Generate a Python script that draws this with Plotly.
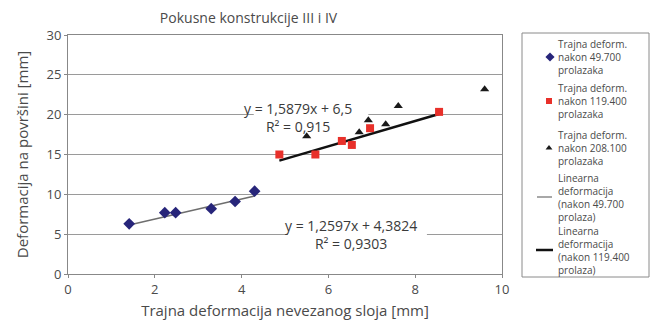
import plotly.graph_objects as go

# --- data ---
x_49700 = [1.41, 2.23, 2.48, 3.30, 3.85, 4.30]
y_49700 = [6.3, 7.7, 7.7, 8.2, 9.1, 10.4]

x_119400 = [4.87, 5.70, 6.31, 6.54, 6.96, 8.55]
y_119400 = [15.0, 15.0, 16.7, 16.2, 18.3, 20.35]

x_208100 = [5.50, 6.71, 6.92, 7.32, 7.61, 9.60]
y_208100 = [17.3, 17.8, 19.3, 18.8, 21.1, 23.2]

fit1_slope, fit1_intercept = 1.2597, 4.3824
fit2_slope, fit2_intercept = 1.5879, 6.5

title_text = "Pokusne konstrukcije III i IV"
x_title = "Trajna deformacija nevezanog sloja [mm]"
y_title = "Deformacija na površini [mm]"
x_ticks = [0, 2, 4, 6, 8, 10]
y_ticks = [0, 5, 10, 15, 20, 25, 30]

legend_labels = [
    "Trajna deform.<br>nakon 49.700<br>prolazaka",
    "Trajna deform.<br>nakon 119.400<br>prolazaka",
    "Trajna deform.<br>nakon 208.100<br>prolazaka",
    "Linearna<br>deformacija<br>(nakon 49.700<br>prolaza)",
    "Linearna<br>deformacija<br>(nakon 119.400<br>prolaza)",
]

FONT = "Open Sans"
TXT = "#4a4a4a"
BLUE, RED, BLACK = "#27257a", "#e8302a", "#1a1a1a"
FIT1_COLOR, FIT2_COLOR = "#6e6e6e", "#111111"

# ---- geometry (pixels) ----
W, H = 651, 320
L, T, B = 68, 35, 46
PLOT_R = 502
region_w = W - L
main_dom = [0, (PLOT_R - L) / region_w]
LEG_X0, LEG_X1, LEG_Y0, LEG_Y1 = 522, 649, 33, 277
leg_dom = [(LEG_X0 - L) / region_w, (LEG_X1 - L) / region_w]

def px_to_paper_x(px):
    return (px - L) / region_w

def py_to_paper_y(py):
    return (H - B - py) / (H - B - T)

fit1_x = [min(x_49700), max(x_49700)]
fit1_y = [fit1_slope * v + fit1_intercept for v in fit1_x]
fit2_x = [min(x_119400), max(x_119400)]
fit2_y = [fit2_slope * v + fit2_intercept for v in fit2_x]

fig = go.Figure()
fig.add_trace(go.Scatter(x=fit1_x, y=fit1_y, mode="lines",
                         line=dict(color=FIT1_COLOR, width=1.5)))
fig.add_trace(go.Scatter(x=fit2_x, y=fit2_y, mode="lines",
                         line=dict(color=FIT2_COLOR, width=2.5)))
fig.add_trace(go.Scatter(x=x_49700, y=y_49700, mode="markers",
                         marker=dict(symbol="diamond", size=9, color=BLUE)))
fig.add_trace(go.Scatter(x=x_119400, y=y_119400, mode="markers",
                         marker=dict(symbol="square", size=8, color=RED)))
fig.add_trace(go.Scatter(x=x_208100, y=y_208100, mode="markers",
                         marker=dict(symbol="triangle-up", size=8, color=BLACK)))

# ---- manual legend on a pixel-scaled helper axis ----
sym_y = [57, 101, 148]
fig.add_trace(go.Scatter(x=[550], y=[sym_y[0]], xaxis="x2", yaxis="y2", mode="markers",
                         marker=dict(symbol="diamond", size=7, color=BLUE), cliponaxis=False))
fig.add_trace(go.Scatter(x=[549], y=[sym_y[1]], xaxis="x2", yaxis="y2", mode="markers",
                         marker=dict(symbol="square", size=6, color=RED), cliponaxis=False))
fig.add_trace(go.Scatter(x=[549], y=[sym_y[2]], xaxis="x2", yaxis="y2", mode="markers",
                         marker=dict(symbol="triangle-up", size=6, color=BLACK), cliponaxis=False))
fig.add_trace(go.Scatter(x=[537, 552], y=[197, 197], xaxis="x2", yaxis="y2", mode="lines",
                         line=dict(color=FIT1_COLOR, width=1.2), cliponaxis=False))
fig.add_trace(go.Scatter(x=[536, 553], y=[250, 250], xaxis="x2", yaxis="y2", mode="lines",
                         line=dict(color=FIT2_COLOR, width=2.5), cliponaxis=False))

item_centers = [57, 101, 148, 197.5, 250]
for txt, yy in zip(legend_labels, item_centers):
    fig.add_annotation(x=557, y=yy, xref="x2", yref="y2", text=txt, showarrow=False,
                       xanchor="left", yanchor="middle", align="left", borderpad=0,
                       font=dict(family=FONT, size=10, color=TXT))

fig.add_shape(type="rect", xref="paper", yref="paper",
              x0=px_to_paper_x(LEG_X0), x1=px_to_paper_x(LEG_X1),
              y0=py_to_paper_y(LEG_Y1), y1=py_to_paper_y(LEG_Y0),
              line=dict(color="#8a8a8a", width=1), fillcolor="rgba(0,0,0,0)")

# white boxes behind equation labels (hide gridlines, stay under data)
fig.add_shape(type="rect", x0=4.28, x1=6.92, y0=19.2, y1=20.8, xref="x", yref="y",
              fillcolor="white", line=dict(width=0), layer="between")
fig.add_shape(type="rect", x0=5.07, x1=8.27, y0=4.2, y1=5.8, xref="x", yref="y",
              fillcolor="white", line=dict(width=0), layer="between")

fig.add_annotation(x=5.3, y=19.6, xref="x", yref="y", showarrow=False,
                   text="y = 1,5879x + 6,5<br>R² = 0,915",
                   font=dict(family=FONT, size=14, color="#3a3a3a"))
fig.add_annotation(x=6.52, y=4.9, xref="x", yref="y", showarrow=False,
                   text="y = 1,2597x + 4,3824<br>R² = 0,9303",
                   font=dict(family=FONT, size=14, color="#3a3a3a"))

fig.update_layout(
    width=W, height=H,
    margin=dict(l=L, r=0, t=T, b=B, autoexpand=False),
    paper_bgcolor="white", plot_bgcolor="white",
    font=dict(family=FONT, size=13, color=TXT),
    title=dict(text=title_text, x=248.5 / W, xanchor="center", xref="container",
               y=1 - 18 / H, yanchor="middle",
               font=dict(family=FONT, size=14, color=TXT)),
    showlegend=False,
    xaxis=dict(domain=main_dom, range=[0, 10], tickvals=x_ticks, showgrid=False,
               zeroline=False, showline=True, linecolor="#888888", linewidth=1,
               mirror=True, ticks="outside", ticklen=3, tickcolor="#888888",
               automargin=False, tickfont=dict(size=13),
               title=dict(text=x_title, standoff=16, font=dict(size=15))),
    yaxis=dict(range=[0, 30], tickvals=y_ticks, showgrid=True, gridcolor="#9a9a9a",
               gridwidth=1, zeroline=False, showline=True, linecolor="#888888",
               linewidth=1, mirror=True, ticks="outside", ticklen=3,
               tickcolor="#888888", automargin=False, tickfont=dict(size=13),
               title=dict(text=y_title, standoff=14, font=dict(size=15))),
    xaxis2=dict(domain=leg_dom, range=[LEG_X0, LEG_X1], visible=False, fixedrange=True),
    yaxis2=dict(domain=[0, 1], range=[H - B, T], visible=False, anchor="x2",
                fixedrange=True),
)

fig.write_html("out.html", config={"displayModeBar": False},
               post_script="document.body.style.margin='0';")
